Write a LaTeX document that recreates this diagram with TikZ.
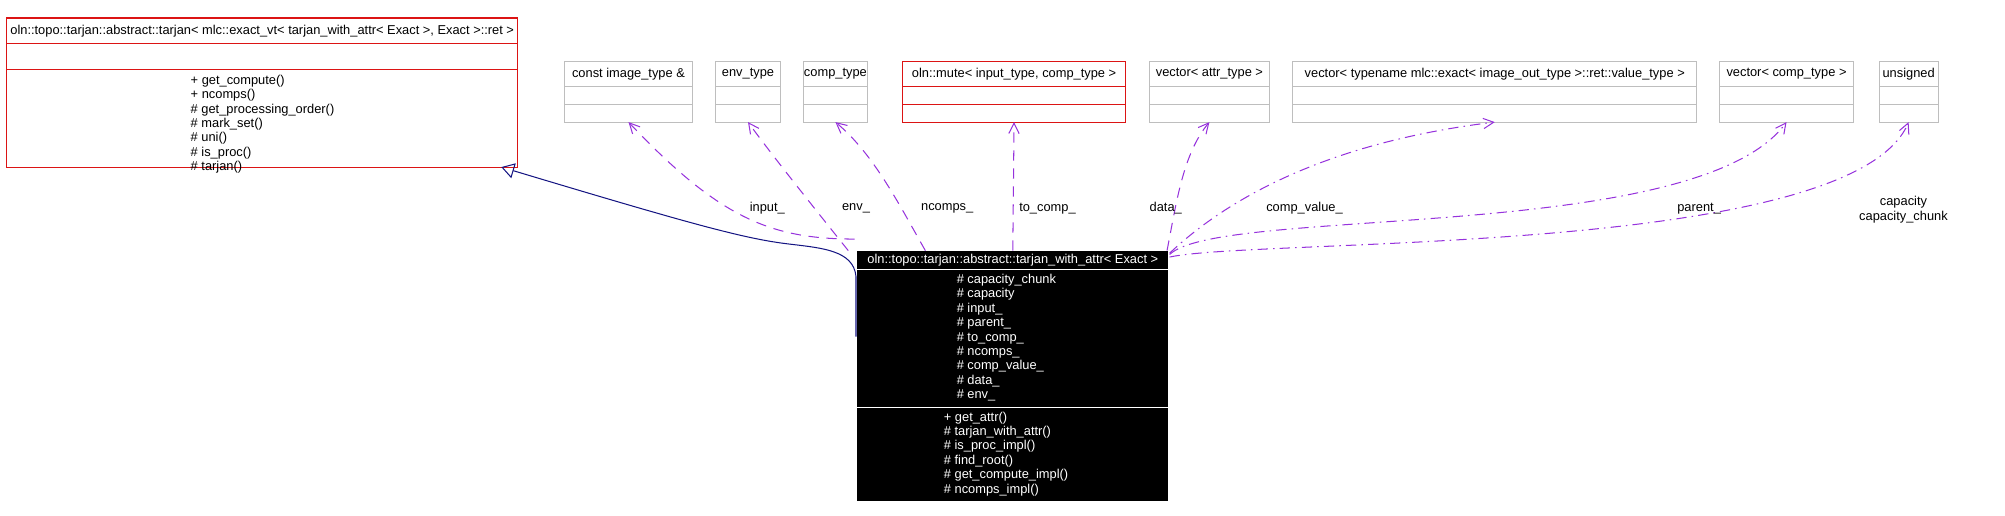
\documentclass[tikz,border=0pt]{standalone}
\usepackage{fontspec}
\setmainfont{Liberation Sans}
\usetikzlibrary{arrows.meta}

\definecolor{boxgray}{RGB}{190,190,190}
\definecolor{boxred}{RGB}{220,20,20}
\definecolor{deppurple}{RGB}{150,50,220}
\definecolor{inhblue}{RGB}{20,20,130}

\tikzset{
  txt/.style={font=\fontsize{5}{5.6}\selectfont, inner sep=0pt},
  dep/.style={deppurple, dash pattern=on 4pt off 3pt, -{Straight Barb[open,length=4pt,width=4pt]}},
  depdot/.style={deppurple, dash pattern=on 4pt off 2pt on 0.6pt off 2pt, -{Straight Barb[open,length=4pt,width=4pt]}},
  inh/.style={inhblue, -{Triangle[open,length=5pt,width=6pt]}},
}

% a small class box: name, left, right, title, colour
\newcommand{\typebox}[5]{
  \draw[#5] (#2,48) rectangle (#3,95);
  \draw[#5] (#2,67) -- (#3,67) (#2,81) -- (#3,81);
  \node[txt] (#1) at ({(#2+#3)/2},57.5) {#4};
  \coordinate (#1b) at ({(#2+#3)/2},95);
}

\begin{document}
\begin{tikzpicture}[x=0.5pt, y=-0.5pt]
  \useasboundingbox (0,0) rectangle (1560,401);

  % base class
  \draw[boxred] (5,14) rectangle (403,130);
  \draw[boxred] (5,34) -- (403,34) (5,54) -- (403,54);
  \node[txt] (base) at (204,24) {oln::topo::tarjan::abstract::tarjan< mlc::exact\_vt< tarjan\_with\_attr< Exact >, Exact >::ret >};
  \node[txt, anchor=north west, align=left] (basem) at (148,58)
    {+ get\_compute()\\+ ncomps()\\\# get\_processing\_order()\\\# mark\_set()\\\# uni()\\\# is\_proc()\\\# tarjan()};
  \coordinate (baseb) at (390,130);

  % member types
  \typebox{img}{439}{539}{const image\_type \&}{boxgray}
  \typebox{envt}{557}{607}{env\_type}{boxgray}
  \typebox{compt}{625}{675}{comp\_type}{boxgray}
  \typebox{mute}{702}{876}{oln::mute< input\_type, comp\_type >}{boxred}
  \typebox{attrv}{894}{988}{vector< attr\_type >}{boxgray}
  \typebox{valv}{1006}{1320}{vector< typename mlc::exact< image\_out\_type >::ret::value\_type >}{boxgray}
  \typebox{compv}{1338}{1442}{vector< comp\_type >}{boxgray}
  \typebox{uns}{1462}{1508}{unsigned}{boxgray}

  % derived class
  \fill (667,195) rectangle (909,390);
  \draw[white] (667,210) -- (909,210) (667,317) -- (909,317);
  \node[txt, white] (attr) at (788,202.5) {oln::topo::tarjan::abstract::tarjan\_with\_attr< Exact >};
  \node[txt, white, anchor=north west, align=left] (attrf) at (744,213)
    {\# capacity\_chunk\\\# capacity\\\# input\_\\\# parent\_\\\# to\_comp\_\\\# ncomps\_\\\# comp\_value\_\\\# data\_\\\# env\_};
  \node[txt, white, anchor=north west, align=left] (attrm) at (734,320)
    {+ get\_attr()\\\# tarjan\_with\_attr()\\\# is\_proc\_impl()\\\# find\_root()\\\# get\_compute\_impl()\\\# ncomps\_impl()};

  % inheritance
  \draw[inh] (666,262) -- (666,215) .. controls (664,195) and (640,193) .. (615,190)
    .. controls (580,186) and (540,175) .. (baseb);

  % members
  \draw[dep] (665,186) .. controls (600,186) and (560,170) .. (imgb);
  \draw[dep] (660,195) .. controls (640,170) and (600,120) .. (envtb);
  \draw[dep] (720,195) .. controls (700,160) and (680,120) .. (comptb);
  \draw[dep] (788,195) -- (muteb);
  \draw[dep] (908,195) .. controls (915,160) and (920,120) .. (attrvb);
  \draw[depdot] (910,197) .. controls (960,150) and (1040,110) .. (valvb);
  \draw[depdot] (910,198) .. controls (950,160) and (1320,190) .. (compvb);
  \draw[depdot] (910,200) .. controls (980,185) and (1440,200) .. (unsb);

  \node[txt] (l1) at (597,162) {input\_};
  \node[txt] (l2) at (666,162) {env\_};
  \node[txt] (l3) at (737,162) {ncomps\_};
  \node[txt] (l4) at (815,162) {to\_comp\_};
  \node[txt] (l5) at (907,162) {data\_};
  \node[txt] (l6) at (1015,162) {comp\_value\_};
  \node[txt] (l7) at (1322,162) {parent\_};
  \node[txt, align=center] (l8) at (1481,163) {capacity\\capacity\_chunk};
\end{tikzpicture}
\end{document}
